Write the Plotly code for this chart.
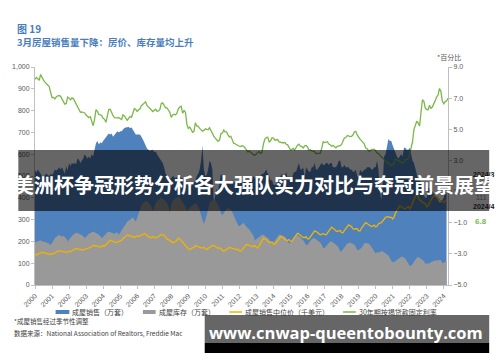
import plotly.graph_objects as go
import pandas as pd

# ---------------- data (monthly) ----------------
years = list(range(2000, 2025))
tick_labels = [str(y) for y in years]

# existing home sales, 10k units (SAAR), 2000-01 .. 2024-03
sales = [
    527, 515, 530, 518, 510, 500, 495, 505, 512, 505, 500, 510,
    505, 515, 530, 525, 530, 540, 530, 540, 520, 510, 545, 525,
    560, 545, 560, 555, 560, 555, 580, 575, 560, 570, 580, 600,
    590, 580, 590, 580, 600, 590, 620, 650, 660, 645, 655, 650,
    660, 670, 680, 690, 695, 690, 695, 680, 690, 700, 705, 700,
    705, 705, 715, 720, 722, 725, 725, 720, 722, 712, 700, 690,
    690, 690, 690, 680, 670, 655, 640, 625, 620, 615, 618, 620,
    610, 612, 600, 590, 580, 570, 560, 540, 510, 500, 495, 490,
    490, 500, 495, 490, 495, 485, 500, 490, 490, 495, 460, 480,
    450, 460, 450, 465, 470, 480, 500, 510, 530, 570, 640, 530,
    500, 505, 530, 570, 560, 530, 380, 410, 440, 430, 470, 510,
    500, 480, 480, 470, 470, 470, 460, 480, 470, 470, 480, 480,
    460, 480, 470, 470, 480, 460, 450, 480, 470, 480, 500, 490,
    490, 500, 500, 500, 510, 510, 520, 530, 510, 500, 480, 480,
    460, 460, 460, 470, 490, 500, 510, 500, 500, 520, 490, 500,
    490, 490, 510, 520, 520, 540, 560, 530, 530, 540, 490, 540,
    530, 520, 520, 540, 540, 560, 530, 530, 540, 550, 560, 550,
    550, 560, 560, 550, 560, 560, 540, 540, 540, 550, 570, 570,
    540, 540, 550, 540, 540, 540, 530, 530, 520, 520, 530, 500,
    490, 530, 520, 520, 530, 530, 540, 540, 540, 530, 530, 540,
    540, 570, 530, 430, 390, 470, 590, 600, 640, 670, 660, 660,
    640, 620, 600, 590, 580, 590, 600, 590, 630, 630, 620, 620,
    630, 600, 570, 560, 540, 510, 480, 480, 470, 440, 410, 400,
    400, 450, 440, 430, 430, 420, 410, 400, 390, 380, 380, 390,
    400, 440, 420,
]

# existing home inventory, 10k units, 2000-01 .. 2024-03
inventory = [
    195, 198, 200, 205, 205, 200, 200, 198, 195, 192, 190, 182,
    195, 205, 215, 220, 225, 230, 225, 222, 225, 220, 215, 200,
    210, 220, 225, 230, 235, 240, 238, 235, 230, 228, 225, 215,
    220, 228, 235, 240, 242, 245, 240, 238, 235, 230, 225, 215,
    220, 228, 235, 240, 245, 242, 240, 238, 235, 240, 242, 230,
    240, 250, 265, 275, 285, 290, 295, 300, 305, 310, 300, 290,
    310, 330, 350, 365, 375, 380, 385, 385, 375, 370, 360, 340,
    360, 375, 385, 390, 395, 400, 395, 390, 385, 375, 360, 330,
    370, 385, 395, 400, 400, 405, 400, 390, 380, 375, 360, 340,
    345, 355, 360, 365, 370, 375, 370, 360, 345, 320, 295, 280,
    300, 320, 345, 375, 385, 390, 395, 390, 380, 370, 355, 330,
    320, 330, 340, 350, 355, 350, 345, 335, 320, 310, 295, 275,
    270, 275, 280, 285, 275, 265, 260, 255, 245, 235, 225, 205,
    210, 215, 220, 225, 230, 230, 225, 222, 215, 210, 200, 190,
    195, 205, 215, 225, 230, 230, 228, 225, 220, 215, 205, 190,
    195, 205, 215, 220, 225, 228, 225, 220, 210, 205, 195, 183,
    185, 195, 205, 210, 215, 215, 210, 205, 200, 195, 185, 170,
    170, 178, 185, 195, 200, 200, 195, 190, 185, 180, 170, 155,
    155, 165, 175, 185, 190, 193, 195, 192, 188, 185, 175, 160,
    160, 165, 170, 180, 190, 193, 193, 190, 185, 175, 165, 150,
    145, 150, 150, 150, 155, 155, 150, 145, 140, 135, 125, 110,
    105, 105, 110, 115, 120, 128, 130, 130, 125, 120, 110, 95,
    88, 90, 95, 105, 115, 125, 128, 125, 120, 115, 110, 97,
    98, 98, 100, 105, 108, 110, 112, 112, 113, 113, 115, 100,
    102, 105, 111,
]

# median sale price, thousand USD, 2000-01 .. 2024-03
median_price = [
    140, 138, 142, 145, 148, 150, 148, 146, 145, 143, 142, 140,
    145, 143, 147, 150, 155, 158, 157, 155, 152, 150, 150, 152,
    155, 153, 157, 162, 165, 168, 166, 165, 163, 160, 160, 163,
    165, 165, 168, 172, 177, 182, 180, 180, 178, 175, 174, 178,
    180, 178, 185, 192, 198, 205, 203, 200, 197, 195, 197, 200,
    205, 205, 212, 218, 225, 230, 228, 225, 222, 218, 218, 222,
    225, 222, 225, 228, 232, 235, 232, 228, 222, 218, 218, 222,
    218, 215, 218, 222, 228, 232, 230, 228, 220, 210, 208, 205,
    200, 195, 195, 200, 205, 215, 212, 205, 195, 185, 180, 175,
    165, 163, 168, 170, 172, 180, 178, 175, 172, 170, 170, 172,
    165, 163, 168, 170, 175, 182, 180, 178, 172, 168, 170, 168,
    158, 156, 160, 162, 168, 172, 170, 168, 165, 162, 162, 165,
    155, 155, 165, 170, 178, 185, 185, 182, 178, 175, 178, 180,
    172, 170, 180, 190, 200, 215, 212, 210, 200, 195, 195, 198,
    188, 188, 195, 202, 212, 222, 220, 218, 210, 205, 205, 208,
    200, 200, 210, 220, 230, 237, 234, 230, 222, 218, 218, 222,
    212, 212, 222, 232, 242, 248, 245, 242, 235, 230, 232, 235,
    232, 230, 238, 248, 258, 265, 260, 256, 248, 245, 248, 250,
    240, 240, 250, 260, 270, 276, 272, 268, 258, 255, 258, 258,
    248, 248, 260, 270, 280, 286, 282, 278, 272, 268, 270, 275,
    266, 270, 280, 285, 285, 295, 305, 310, 312, 313, 310, 310,
    303, 312, 330, 342, 352, 363, 360, 355, 350, 350, 355, 360,
    350, 358, 375, 390, 407, 413, 405, 390, 385, 380, 375, 372,
    359, 363, 375, 390, 400, 410, 405, 405, 395, 390, 385, 385,
    379, 385, 393,
]

# 30-year fixed mortgage rate, %, 2000-01 .. 2024-04
mortgage_rate = [
    8.21, 8.33, 8.24, 8.15, 8.52, 8.29, 8.15, 8.03, 7.91, 7.80, 7.75, 7.38,
    7.03, 7.05, 6.95, 7.08, 7.15, 7.16, 7.13, 6.95, 6.82, 6.62, 6.66, 7.07,
    7.00, 6.89, 7.01, 6.99, 6.81, 6.65, 6.49, 6.29, 6.09, 6.11, 6.07, 6.05,
    5.92, 5.84, 5.75, 5.81, 5.48, 5.23, 5.63, 6.26, 6.15, 5.95, 5.93, 5.88,
    5.71, 5.64, 5.45, 5.83, 6.27, 6.29, 6.06, 5.87, 5.75, 5.72, 5.73, 5.75,
    5.71, 5.63, 5.93, 5.86, 5.72, 5.58, 5.70, 5.82, 5.77, 6.07, 6.33, 6.27,
    6.15, 6.25, 6.32, 6.51, 6.60, 6.68, 6.76, 6.52, 6.40, 6.36, 6.24, 6.14,
    6.22, 6.29, 6.16, 6.18, 6.26, 6.66, 6.70, 6.57, 6.38, 6.38, 6.21, 6.10,
    5.76, 5.92, 5.97, 5.92, 6.04, 6.32, 6.43, 6.48, 6.04, 6.20, 6.09, 5.33,
    5.06, 5.13, 5.00, 4.81, 4.86, 5.42, 5.22, 5.19, 5.06, 4.95, 4.88, 4.93,
    5.03, 4.99, 4.97, 5.10, 4.89, 4.74, 4.56, 4.43, 4.35, 4.23, 4.30, 4.71,
    4.76, 4.95, 4.84, 4.84, 4.64, 4.51, 4.55, 4.27, 4.11, 4.07, 3.99, 3.96,
    3.92, 3.89, 3.95, 3.91, 3.80, 3.68, 3.55, 3.60, 3.50, 3.38, 3.35, 3.35,
    3.41, 3.53, 3.57, 3.45, 3.54, 4.07, 4.37, 4.46, 4.49, 4.19, 4.26, 4.46,
    4.43, 4.30, 4.34, 4.34, 4.19, 4.16, 4.13, 4.12, 4.16, 4.04, 4.00, 3.86,
    3.67, 3.71, 3.77, 3.67, 3.84, 3.98, 4.05, 3.91, 3.89, 3.80, 3.94, 3.96,
    3.87, 3.66, 3.69, 3.61, 3.60, 3.57, 3.44, 3.44, 3.46, 3.47, 3.77, 4.20,
    4.15, 4.17, 4.20, 4.05, 4.01, 3.90, 3.97, 3.88, 3.81, 3.90, 3.92, 3.95,
    4.03, 4.33, 4.44, 4.47, 4.59, 4.57, 4.53, 4.55, 4.63, 4.83, 4.87, 4.64,
    4.46, 4.37, 4.27, 4.14, 4.07, 3.80, 3.77, 3.62, 3.61, 3.69, 3.70, 3.72,
    3.62, 3.47, 3.45, 3.31, 3.23, 3.16, 3.02, 2.94, 2.89, 2.83, 2.77, 2.68,
    2.74, 2.81, 3.08, 3.06, 2.96, 2.98, 2.87, 2.84, 2.90, 3.07, 3.07, 3.10,
    3.45, 3.76, 4.17, 4.98, 5.23, 5.52, 5.41, 5.22, 6.11, 6.90, 6.80, 6.36,
    6.27, 6.26, 6.54, 6.34, 6.43, 6.71, 6.84, 7.07, 7.20, 7.62, 7.44, 6.82,
    6.64, 6.78, 6.82, 6.99,
]

legend_names = ["成屋销售（万套）", "成屋库存（万套）", "成屋销售中位价（千美元）", "30年期按揭贷款固定利率"]
left_ticks = [0, 100, 200, 300, 400, 500, 600, 700, 800, 900, 1000]
left_tick_text = ["0", "100", "200", "300", "400", "500", "600", "700", "800", "900", "1,000"]

# ---------------- figure ----------------
W, H = 500, 362
L, R, T, B = 27, 52, 67, 77

def px(x):
    return (x - L) / (W - L - R)

def py(y):
    return (H - B - y) / (H - T - B)

BLUE = "rgb(79,129,189)"
GRAY = "rgb(153,153,153)"
YELLOW = "rgb(240,180,0)"
GREEN = "rgb(122,184,72)"
CJK = "Noto Sans CJK SC"

d1 = pd.date_range("2000-01-01", periods=len(sales), freq="MS")
d2 = pd.date_range("2000-01-01", periods=len(mortgage_rate), freq="MS")

fig = go.Figure()
fig.add_trace(go.Scatter(x=d1, y=sales, fill="tozeroy", mode="lines",
                         line=dict(width=0, color=BLUE), fillcolor=BLUE, name=legend_names[0]))
fig.add_trace(go.Scatter(x=d1, y=inventory, fill="tozeroy", mode="lines",
                         line=dict(width=0, color=GRAY), fillcolor=GRAY, name=legend_names[1]))
fig.add_trace(go.Scatter(x=d1, y=median_price, mode="lines",
                         line=dict(width=1.3, color=YELLOW), name=legend_names[2]))
fig.add_trace(go.Scatter(x=d2, y=mortgage_rate, mode="lines", yaxis="y2",
                         line=dict(width=1.3, color=GREEN), name=legend_names[3]))

axis_font = dict(family="Liberation Sans, " + CJK, size=7, color="#595959")

fig.update_layout(
    width=W, height=H,
    margin=dict(l=L, r=R, t=T, b=B),
    paper_bgcolor="white", plot_bgcolor="white",
    showlegend=False,
    xaxis=dict(
        range=["2000-01-01", "2024-04-01"],
        tickvals=[f"{y}-01-01" for y in years], ticktext=tick_labels,
        tickangle=-45, tickfont=axis_font,
        showgrid=False, zeroline=False,
        showline=True, linecolor="#bfbfbf", linewidth=1,
        ticks="outside", ticklen=3, tickcolor="#bfbfbf",
    ),
    yaxis=dict(
        range=[0, 1000], tickvals=left_ticks, ticktext=left_tick_text,
        tickfont=axis_font, showgrid=False, zeroline=False,
        showline=True, linecolor="#bfbfbf", linewidth=1,
        ticks="outside", ticklen=3, tickcolor="#bfbfbf",
    ),
    yaxis2=dict(
        range=[-5, 9], tick0=-5, dtick=2, tickformat=".1f",
        overlaying="y", side="right",
        tickfont=axis_font, showgrid=False, zeroline=False,
        showline=True, linecolor="#bfbfbf", linewidth=1,
        ticks="outside", ticklen=3, tickcolor="#bfbfbf",
    ),
)

ann = []
def text(x, y, s, size=7, color="#404040", bold=False, anchor="left", family=CJK):
    ann.append(dict(x=px(x), y=py(y), xref="paper", yref="paper", text=(f"<b>{s}</b>" if bold else s),
                    showarrow=False, xanchor=anchor, yanchor="middle",
                    font=dict(size=size, color=color, family=family)))

TITLE_BLUE = "#4a7ebb"
text(7, 28, "图 19", size=10, color=TITLE_BLUE, bold=True)
text(7, 42, "3月房屋销售量下降：房价、库存量均上升", size=9.5, color=TITLE_BLUE, bold=True)
text(463, 57, "*百分比", size=7, color="#595959", anchor="right")

# legend
shapes = []
shapes.append(dict(type="rect", xref="paper", yref="paper", x0=px(48), x1=px(62), y0=py(314), y1=py(310),
                   fillcolor=BLUE, line=dict(width=0)))
text(63, 312, legend_names[0], size=7)
shapes.append(dict(type="rect", xref="paper", yref="paper", x0=px(137), x1=px(150), y0=py(314), y1=py(310),
                   fillcolor=GRAY, line=dict(width=0)))
text(151, 312, legend_names[1], size=7)
shapes.append(dict(type="line", xref="paper", yref="paper", x0=px(225), x1=px(238), y0=py(312), y1=py(312),
                   line=dict(color=YELLOW, width=1.5)))
text(239, 312, legend_names[2], size=7)
shapes.append(dict(type="line", xref="paper", yref="paper", x0=px(341), x1=px(354), y0=py(312), y1=py(312),
                   line=dict(color=GREEN, width=1.5)))
text(355, 312, legend_names[3], size=7)

# footnotes
text(4, 321, "*成屋销售经过季节性调整", size=6.5)
text(4, 333, "数据来源：National Association of Realtors, Freddie Mac", size=6.5)

# right-hand latest values
text(471, 174, "2024/3", size=7, color="#111111", bold=True, family="Liberation Sans")
text(490, 197, "111", size=7, color="#3a3a3a", anchor="right", family="Liberation Sans")
text(471, 207, "2024/4", size=7, color="#111111", bold=True, family="Liberation Sans")
text(490, 221, "6.8", size=8, color=GREEN, bold=True, anchor="right", family="Liberation Sans")

# overlay banners
shapes.append(dict(type="rect", xref="paper", yref="paper", x0=px(10), x1=px(490), y0=py(211), y1=py(150),
                   fillcolor="rgba(0,0,0,0.6)", line=dict(width=0), layer="above"))
shapes.append(dict(type="rect", xref="paper", yref="paper", x0=px(200), x1=px(490), y0=py(343), y1=py(315),
                   fillcolor="#666666", line=dict(width=0), layer="above"))
shapes.append(dict(type="rect", xref="paper", yref="paper", x0=px(200), x1=px(490), y0=py(353), y1=py(343),
                   fillcolor="#000000", line=dict(width=0), layer="above"))
text(250, 184, "美洲杯争冠形势分析各大强队实力对比与夺冠前景展望", size=20, color="white", bold=True, anchor="center")
text(344, 332, "www.cnwap-queentobounty.com", size=16.5, color="white", bold=True, anchor="center", family="Open Sans")

fig.update_layout(annotations=ann, shapes=shapes)
fig.write_html("out.html")
